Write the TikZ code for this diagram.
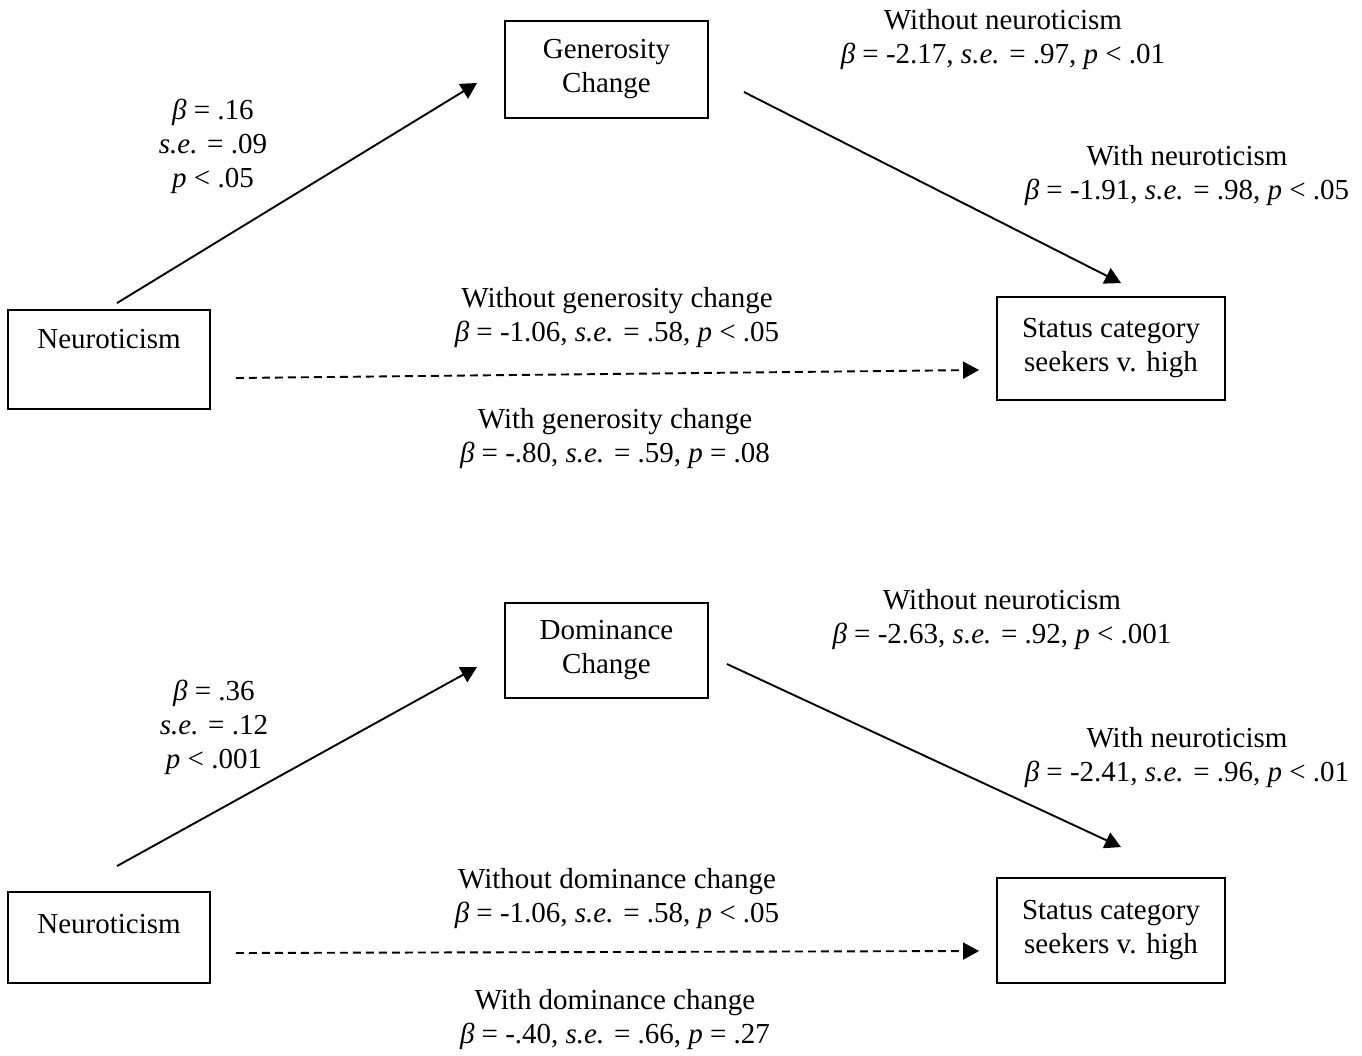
\documentclass[tikz,border=0pt]{standalone}
\usepackage{fontspec}
\setmainfont{Liberation Serif}
\usetikzlibrary{arrows.meta,calc}
\begin{document}
\begin{tikzpicture}[x=1pt,y=-1pt,
  every node/.style={font=\fontsize{29}{34}\selectfont},
  box/.style={draw,line width=1.9pt,inner sep=0pt,align=center},
  lab/.style={align=center,inner sep=0pt,anchor=base},
  conn/.style={line width=1.9pt,-{Triangle[length=16pt,width=17pt]}},
  dconn/.style={conn,dash pattern=on 8pt off 5pt}]
\useasboundingbox (0,0) rectangle (1362,1055);
% ---------- top panel ----------
\node[box,minimum width=203pt,minimum height=97pt] (gen) at (606.5,69.5) {Generosity\\Change};
\node[box,minimum width=202pt,text height=38pt,text depth=61pt] (neuA) at (109,359.5) {Neuroticism};
\node[box,minimum width=228pt,minimum height=103pt] (statA) at (1111,348.5) {Status category\\seekers v. high};
\draw[conn] ($(neuA.north)+(8,-6)$) -- ($(gen.west)+(-27,13.5)$);
\draw[conn] ($(gen.east)+(35,22.5)$) -- ($(statA.north)+(10,-13)$);
\draw[dconn] ($(neuA.east)+(25,18.5)$) -- ($(statA.west)+(-17,21.5)$);
\node[lab] (a1) at (213,187) {\textit{β} = .16\\\textit{s.e.} = .09\\\textit{p} < .05};
\node[lab] (a2) at (1003,63) {Without neuroticism\\\textit{β} = -2.17, \textit{s.e.} = .97, \textit{p} < .01};
\node[lab] (a3) at (1187,199) {With neuroticism\\\textit{β} = -1.91, \textit{s.e.} = .98, \textit{p} < .05};
\node[lab] (a4) at (617,341) {Without generosity change\\\textit{β} = -1.06, \textit{s.e.} = .58, \textit{p} < .05};
\node[lab] (a5) at (615,462) {With generosity change\\\textit{β} = -.80, \textit{s.e.} = .59, \textit{p} = .08};
% ---------- bottom panel ----------
\node[box,minimum width=203pt,minimum height=95pt] (dom) at (606.5,650.5) {Dominance\\Change};
\node[box,minimum width=202pt,text height=41pt,text depth=50pt] (neuB) at (109,937.5) {Neuroticism};
\node[box,minimum width=228pt,minimum height=105pt] (statB) at (1111,930.5) {Status category\\seekers v. high};
\draw[conn] ($(neuB.north)+(8,-25)$) -- ($(dom.west)+(-27,16.5)$);
\draw[conn] ($(dom.east)+(18,13.5)$) -- ($(statB.north)+(10,-30)$);
\draw[dconn] ($(neuB.east)+(25,15.5)$) -- ($(statB.west)+(-17,20.5)$);
\node[lab] (b1) at (214,768) {\textit{β} = .36\\\textit{s.e.} = .12\\\textit{p} < .001};
\node[lab] (b2) at (1002,643) {Without neuroticism\\\textit{β} = -2.63, \textit{s.e.} = .92, \textit{p} < .001};
\node[lab] (b3) at (1187,781) {With neuroticism\\\textit{β} = -2.41, \textit{s.e.} = .96, \textit{p} < .01};
\node[lab] (b4) at (617,922) {Without dominance change\\\textit{β} = -1.06, \textit{s.e.} = .58, \textit{p} < .05};
\node[lab] (b5) at (615,1043) {With dominance change\\\textit{β} = -.40, \textit{s.e.} = .66, \textit{p} = .27};
\end{tikzpicture}
\end{document}
